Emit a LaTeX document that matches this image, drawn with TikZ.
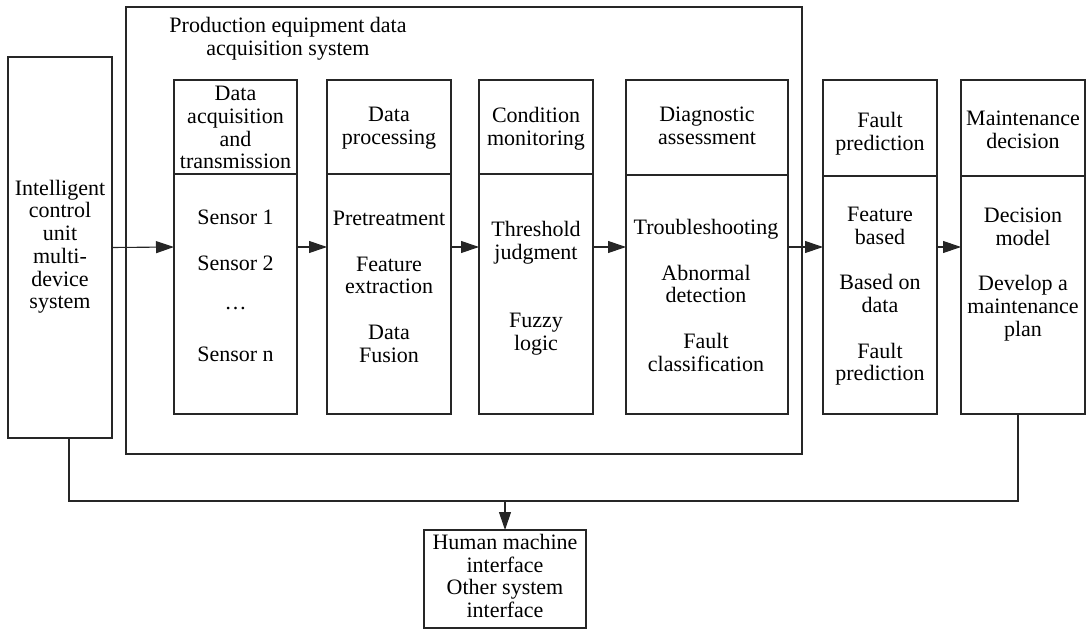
\documentclass[tikz,border=0pt]{standalone}
\usepackage{fontspec}
\setmainfont{Liberation Serif}
\newfontfamily\tnr{Liberation Serif}
\usetikzlibrary{arrows.meta}
\definecolor{ln}{HTML}{262626}
\begin{document}
\begin{tikzpicture}[x=1pt,y=-1pt,
  every node/.style={font=\tnr\fontsize{22}{22.7}\selectfont, inner sep=0pt, outer sep=0pt},
  box/.style={draw=ln, line width=1.1pt, anchor=north west},
  txt/.style={align=center, anchor=north},
  conn/.style={draw=ln, line width=1.1pt},
  arr/.style={conn, -{Triangle[length=18pt,width=12pt]}},
]
\useasboundingbox (0,0) rectangle (1091,631);

% outer system frame
\node[box, minimum width=676, minimum height=447] (outer) at (126,7) {};
\node[txt] (title) at (288,17) {\strut Production equipment data\\acquisition system};

% left unit
\node[draw=ln, line width=1.1pt, align=center, minimum width=104, minimum height=381] (ictrl) at (60,247.5)
  {\strut Intelligent\\control\\unit\\multi-\\device\\system\strut};

% inner boxes
\node[box, minimum width=123, minimum height=334] (b1) at (174,80) {};
\node[box, minimum width=124, minimum height=334] (b2) at (327,80) {};
\node[box, minimum width=114, minimum height=334] (b3) at (479,80) {};
\node[box, minimum width=162, minimum height=334] (b4) at (626,80) {};
\node[box, minimum width=114, minimum height=334] (b5) at (823,80) {};
\node[box, minimum width=124, minimum height=334] (b6) at (961,80) {};

% dividers
\draw[conn] (b1.west |- 0,174) -- (b1.east |- 0,174);
\draw[conn] (b2.west |- 0,174) -- (b2.east |- 0,174);
\draw[conn] (b3.west |- 0,174) -- (b3.east |- 0,174);
\draw[conn] (b4.west |- 0,175) -- (b4.east |- 0,175);
\draw[conn] (b5.west |- 0,176) -- (b5.east |- 0,176);
\draw[conn] (b6.west |- 0,176) -- (b6.east |- 0,176);

% headers
\node[txt] (h1) at (235.5,85) {\strut Data\\acquisition\\and\\transmission};
\node[txt] (h2) at (389,106) {\strut Data\\processing};
\node[txt] (h3) at (536,107) {\strut Condition\\monitoring};
\node[txt] (h4) at (707,106) {\strut Diagnostic\\assessment};
\node[txt] (h5) at (880,112) {\strut Fault\\prediction};
\node[txt] (h6) at (1023,110) {\strut Maintenance\\decision};

% bodies
\node[txt] (t1) at (235.5,209) {\strut Sensor 1\\[22.7pt]Sensor 2\\[22.7pt]\raisebox{6pt}{…}\\[22.7pt]Sensor n};
\node[txt] (t2) at (389,210) {\strut Pretreatment\\[22.7pt]Feature\\extraction\\[22.7pt]Data\\Fusion};
\node[txt] (t3) at (536,221) {\strut Threshold\\judgment\\[45.4pt]Fuzzy\\logic};
\node[txt] (t4) at (706,219) {\strut Troubleshooting\\[22.7pt]Abnormal\\detection\\[22.7pt]Fault\\classification};
\node[txt] (t5) at (880,206) {\strut Feature\\based\\[22.7pt]Based on\\data\\[22.7pt]Fault\\prediction};
\node[txt] (t6) at (1023,207) {\strut Decision\\model\\[22.7pt]Develop a\\maintenance\\plan};

% interface box
\node[draw=ln, line width=1.1pt, align=center, minimum width=162, minimum height=98] (hmi) at (505,579)
  {\strut Human machine\\interface\\Other system\\interface\strut};

% flow arrows
\draw[arr] (ictrl.east) -- (b1.west);
\draw[arr] (b1.east) -- (b2.west);
\draw[arr] (b2.east) -- (b3.west);
\draw[arr] (b3.east) -- (b4.west);
\draw[arr] (b4.east) -- (b5.west);
\draw[arr] (b5.east) -- (b6.west);

% bottom bus
\coordinate (cl) at (69,438);
\coordinate (jl) at (69,501);
\coordinate (cr) at (1018,414);
\coordinate (jr) at (1018,501);
\draw[conn] (cl) -- (jl) -- (jr) -- (cr);
\draw[arr] (hmi.north |- jl) -- (hmi.north);
\end{tikzpicture}
\end{document}
